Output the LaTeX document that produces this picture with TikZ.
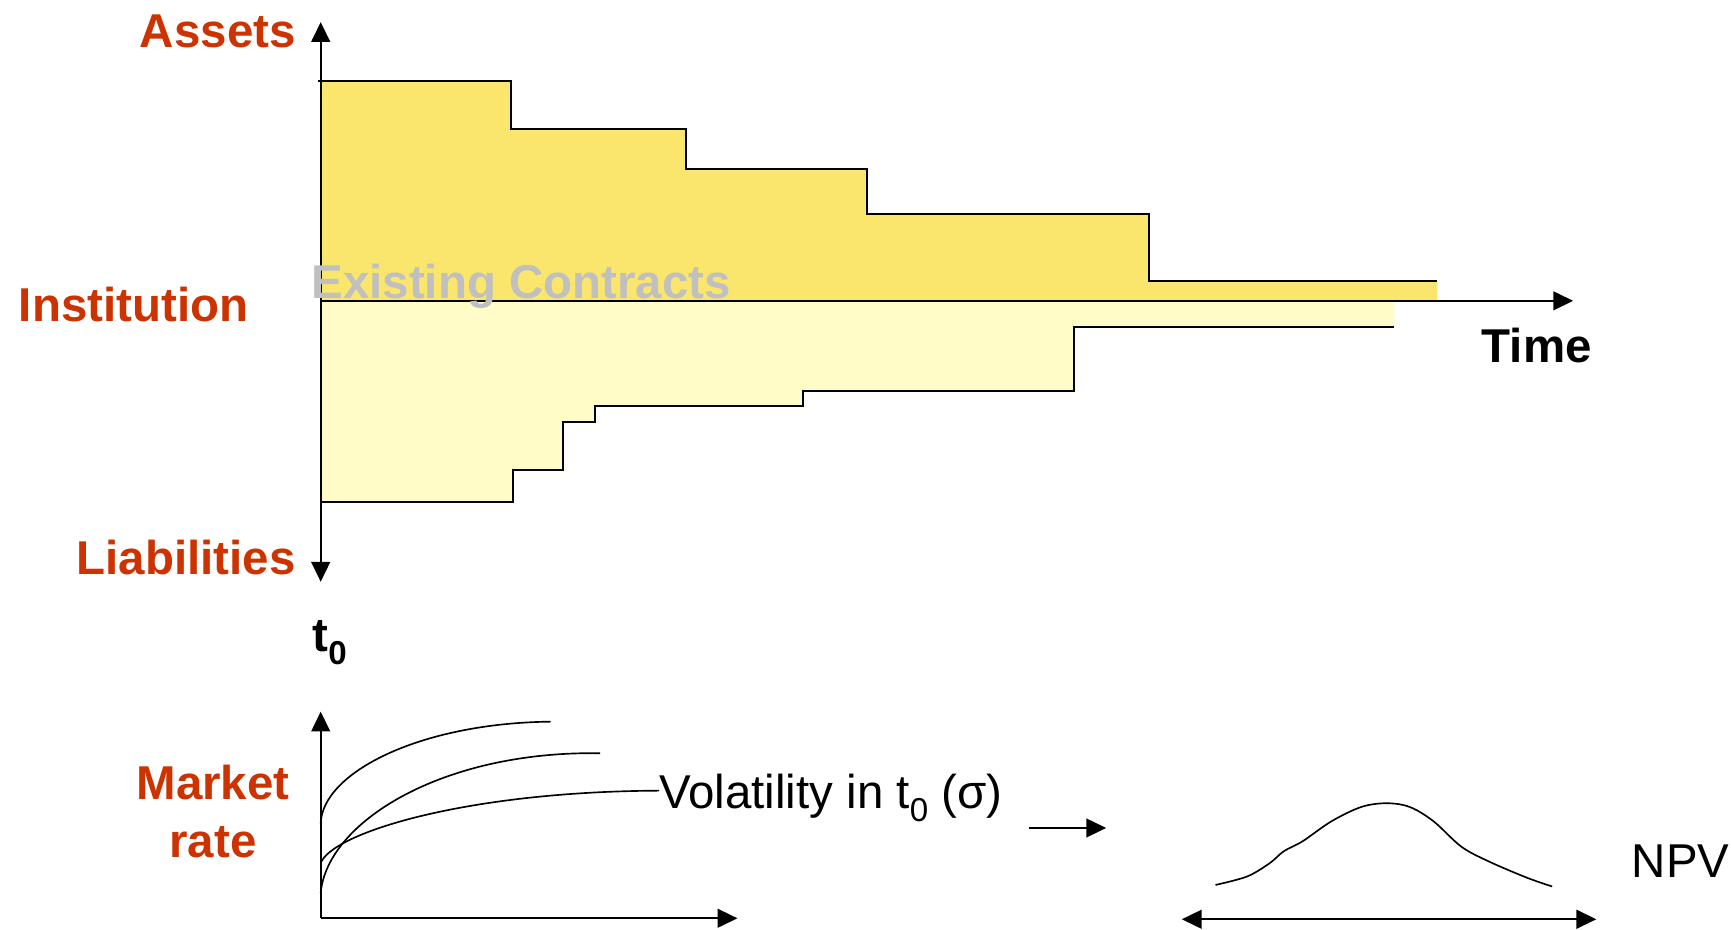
\documentclass[tikz,border=0pt]{standalone}
\usepackage{fontspec}
\setmainfont{Liberation Sans}
\usetikzlibrary{arrows.meta}
\definecolor{assetfill}{RGB}{250,230,108}
\definecolor{liabfill}{RGB}{255,252,200}
\definecolor{labelred}{RGB}{204,51,0}
\definecolor{watermark}{RGB}{192,192,192}
\newcommand{\subzero}{\raisebox{-0.28em}{\fontsize{30}{30}\selectfont 0}}
\begin{document}
\begin{tikzpicture}[x=1pt,y=-1pt,
  axisline/.style={line width=1.8pt,-{Triangle[length=18pt,width=17pt]}},
  twoway/.style={line width=1.8pt,{Triangle[length=18pt,width=17pt]}-{Triangle[length=18pt,width=17pt]}},
  edgeline/.style={line width=1.8pt},
  curveline/.style={line width=1.5pt},
  redlabel/.style={font=\fontsize{43}{52}\selectfont\bfseries, text=labelred, inner sep=0pt},
  blacklabel/.style={font=\fontsize{43}{52}\selectfont\bfseries, text=black, inner sep=0pt},
  plainlabel/.style={font=\fontsize{43}{52}\selectfont, text=black, inner sep=0pt},
  marklabel/.style={font=\fontsize{43}{52}\selectfont\bfseries, text=watermark, inner sep=0pt}
]
\useasboundingbox (0,0) rectangle (1568,842);

% coordinates of the upper chart
\coordinate (O) at (290.5,272.5);
\coordinate (Atop) at (290.5,20);
\coordinate (Abot) at (290.5,527);
\coordinate (Tend) at (1425,272.5);

% asset block
\fill[assetfill] (290.5,73.4) -| (463,116.8) -| (621,153) -| (785,193.5) -| (1041,254.5) -| (1302,272.5) -- (O) -- cycle;
% liabilities block
\fill[liabfill] (O) -- (1263,272.5) -- (1263,296) -- (973,296) -- (973,354) -- (727,354) -- (727,368) -- (539,368) -- (539,382) -- (510,382) -- (510,426) -- (465,426) -- (465,455) -- (290.5,455) -- cycle;

\draw[edgeline] (288,73.4) -| (463,116.8) -| (621,153) -| (785,193.5) -| (1041,254.5) -- (1302,254.5);
\draw[edgeline] (1263,296) -- (973,296) -- (973,354) -- (727,354) -- (727,368) -- (539,368) -- (539,382) -- (510,382) -- (510,426) -- (465,426) -- (465,455) -- (290.5,455);

\draw[axisline] (O) -- (Atop);
\draw[axisline] (O) -- (Abot);
\draw[axisline] (O) -- (Tend);

\node[marklabel, anchor=base west] (existing) at (282,270) {Existing Contracts};

\node[redlabel, anchor=base east] (assets) at (268,43) {Assets};
\node[redlabel, anchor=base west] (institution) at (17,291) {Institution};
\node[redlabel, anchor=base east] (liabilities) at (268,520) {Liabilities};
\node[blacklabel, anchor=base west] (time) at (1342,328.5) {Time};
\node[blacklabel, anchor=base west] (tzero) at (283,590) {t\subzero};

% lower chart
\coordinate (O2) at (290.5,831.8);
\coordinate (Y2) at (290.5,644.6);
\coordinate (X2) at (668,831.8);
\draw[axisline] (O2) -- (Y2);
\draw[axisline] (O2) -- (X2);

\node[redlabel, anchor=base] (market) at (193,724) {Market};
\node[redlabel, anchor=base] (rate) at (193,777) {rate};

\node[plainlabel, anchor=base west] (vol) at (597,732.2) {Volatility in t\subzero\ (σ)};

\draw[curveline] (290.5,745.8) .. controls (292,700) and (380,655) .. (498.8,653.7);
\draw[curveline] (290.5,809) .. controls (296,745) and (400,680) .. (543.5,682.3);
\draw[curveline] (290.5,782) .. controls (300,755) and (420,717) .. (vol.west |- 0,716.2);

\coordinate (s1) at (932,750);
\coordinate (s2) at (1002,750);
\draw[axisline] (s1) -- (s2);

\draw[curveline] plot[smooth, tension=0.55] coordinates {(1101,801.6) (1129.5,794) (1150,782) (1163,771) (1180,762) (1206,744) (1233,731) (1256,727.6) (1277,731) (1298.6,744) (1323.8,767) (1349,780.5) (1383,795) (1406,803)};

\coordinate (d1) at (1070.5,832.7);
\coordinate (d2) at (1446,832.7);
\draw[twoway] (d1) -- (d2);

\node[plainlabel, anchor=base west] (npv) at (1478,795) {NPV};
\end{tikzpicture}
\end{document}
